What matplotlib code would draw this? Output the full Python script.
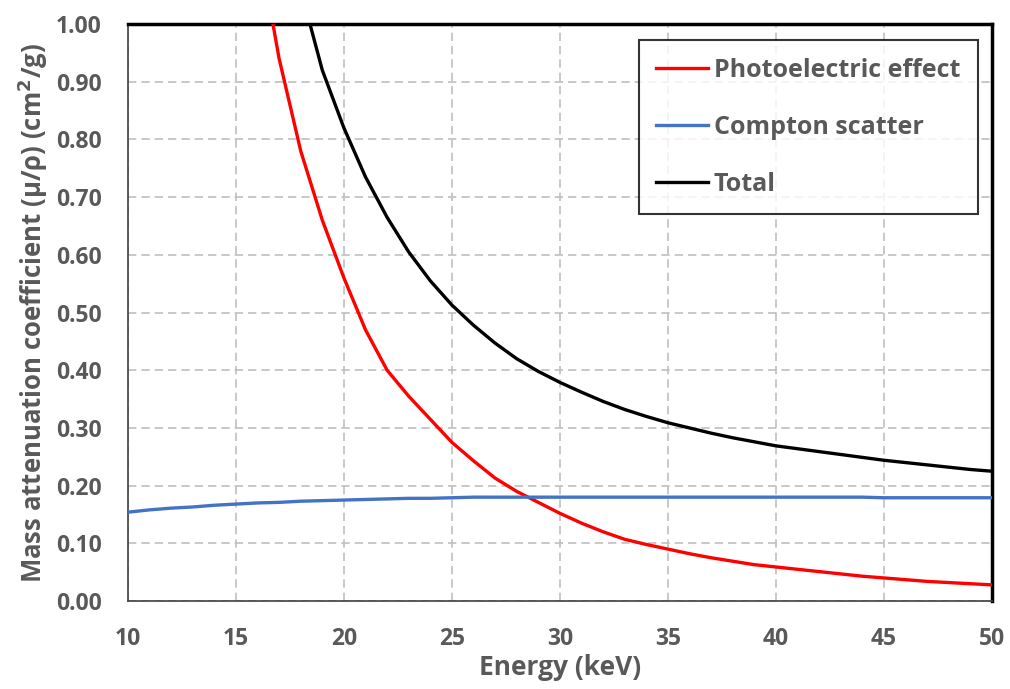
import matplotlib
matplotlib.use("Agg")
import matplotlib.pyplot as plt

energy_kev = list(range(10, 51))

photoelectric = [4.60, 3.50, 2.70, 2.10, 1.70, 1.40, 1.15, 0.94, 0.78, 0.66,
                 0.56, 0.47, 0.40, 0.355, 0.315, 0.275, 0.243, 0.213, 0.190, 0.171,
                 0.152, 0.135, 0.120, 0.107, 0.098, 0.090, 0.082, 0.075, 0.069, 0.063,
                 0.059, 0.055, 0.051, 0.047, 0.043, 0.040, 0.037, 0.034, 0.032, 0.030,
                 0.028]

compton = [0.154, 0.158, 0.161, 0.163, 0.166, 0.168, 0.170, 0.171, 0.173, 0.174,
           0.175, 0.176, 0.177, 0.178, 0.178, 0.179, 0.180, 0.180, 0.180, 0.180,
           0.180, 0.180, 0.180, 0.180, 0.180, 0.180, 0.180, 0.180, 0.180, 0.180,
           0.180, 0.180, 0.180, 0.180, 0.180, 0.179, 0.179, 0.179, 0.179, 0.179,
           0.179]

total = [4.95, 3.85, 3.03, 2.42, 2.00, 1.69, 1.43, 1.21, 1.06, 0.92,
         0.82, 0.735, 0.665, 0.605, 0.555, 0.513, 0.478, 0.447, 0.420, 0.398,
         0.379, 0.362, 0.346, 0.332, 0.320, 0.309, 0.300, 0.291, 0.283, 0.276,
         0.269, 0.264, 0.259, 0.254, 0.249, 0.244, 0.240, 0.236, 0.232, 0.228,
         0.225]

series_names = ["Photoelectric effect", "Compton scatter", "Total"]
x_ticks = [10, 15, 20, 25, 30, 35, 40, 45, 50]
y_ticks = [0.0, 0.1, 0.2, 0.3, 0.4, 0.5, 0.6, 0.7, 0.8, 0.9, 1.0]

TXT = "#595959"
plt.rcParams['font.family'] = ['Open Sans', 'DejaVu Sans']

fig = plt.figure(figsize=(10.10, 6.89), dpi=100)
ax = fig.add_axes([0.1267, 0.1277, 0.8553, 0.8373])

ax.plot(energy_kev, photoelectric, color="#FF0000", lw=2.4, label=series_names[0], zorder=3)
ax.plot(energy_kev, compton, color="#4472C4", lw=2.4, label=series_names[1], zorder=3)
ax.plot(energy_kev, total, color="#000000", lw=2.4, label=series_names[2], zorder=3)

ax.set_xlim(10, 50)
ax.set_ylim(0, 1.0)
ax.set_xticks(x_ticks)
ax.set_yticks(y_ticks)
ax.set_xticklabels([str(t) for t in x_ticks])
ax.set_yticklabels([f"{t:.2f}" for t in y_ticks])
ax.tick_params(length=0, labelcolor=TXT)
ax.tick_params(axis="x", pad=19, labelsize=16.5)
ax.tick_params(axis="y", pad=19, labelsize=16.5)
for lab in ax.get_xticklabels() + ax.get_yticklabels():
    lab.set_fontweight("bold")

ax.grid(True, color="#BFBFBF", linestyle=(0, (5, 3)), lw=1.2, zorder=0)

for side in ["left", "bottom"]:
    ax.spines[side].set_color("#404040")
    ax.spines[side].set_linewidth(1.2)
for side in ["top", "right"]:
    ax.spines[side].set_color("black")
    ax.spines[side].set_linewidth(2.5)

ax.set_xlabel("Energy (keV)", fontsize=19, fontweight="bold", color=TXT, labelpad=2)
ax.set_ylabel("Mass attenuation coefficient (μ/ρ) (cm$^\\mathbf{2}$/g)", fontsize=18.5,
              fontweight="bold", color=TXT, labelpad=4)

leg = ax.legend(loc="upper right", bbox_to_anchor=(0.9838, 0.9723), fontsize=18,
                frameon=True, fancybox=False, edgecolor="black", handlelength=2.05,
                handletextpad=0.25, labelspacing=1.28, borderpad=0.7, borderaxespad=0)
leg.get_frame().set_linewidth(1.5)
for t in leg.get_texts():
    t.set_color(TXT)
    t.set_fontweight("bold")

fig.savefig("out.png", dpi=100)
